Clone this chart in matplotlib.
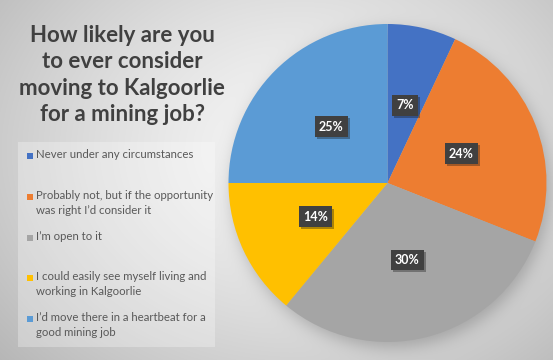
import numpy as np
import matplotlib
matplotlib.use("Agg")
import matplotlib.pyplot as plt
from matplotlib.patches import Rectangle
import matplotlib.patheffects as pe

# ---- data ----
categories = [
    "Never under any circumstances",
    "Probably not, but if the opportunity\nwas right I\u2019d consider it",
    "I\u2019m open to it",
    "I could easily see myself living and\nworking in Kalgoorlie",
    "I\u2019d move there in a heartbeat for a\ngood mining job",
]
values = [7, 24, 30, 14, 25]
colors = ["#4472C4", "#ED7D31", "#A5A5A5", "#FFC000", "#5B9BD5"]
title = "How likely are you\nto ever consider\nmoving to Kalgoorlie\nfor a mining job?"

W, H = 553, 360
fig = plt.figure(figsize=(W / 100, H / 100), dpi=100)

# ---- background gradient + pie shadow ----
bg_ax = fig.add_axes([0, 0, 1, 1])
yy, xx = np.mgrid[0:H, 0:W]
t = np.sqrt(((xx - 300) / (W * 0.62)) ** 2 + ((yy - 150) / (H * 0.75)) ** 2)
bg = 0.965 - 0.20 * np.clip(t, 0, 1.2) ** 1.4
cx, cy, R = 390, 188, 159
d = np.sqrt((xx - cx) ** 2 + (yy - cy) ** 2)
shadow = 1.0 / (1.0 + np.exp((d - R) / 5.0))
bg = bg * (1 - 0.22 * shadow)
bg_ax.imshow(np.dstack([bg, bg, bg]), extent=[0, W, H, 0], aspect="auto",
             interpolation="bilinear")
bg_ax.set_xlim(0, W)
bg_ax.set_ylim(H, 0)
bg_ax.axis("off")

# legend box
bg_ax.add_patch(Rectangle((18, 142), 197, 205, facecolor="white", alpha=0.28,
                          edgecolor="none"))

# ---- title ----
fig.text(122 / W, 1 - 75 / H, title, ha="center", va="center",
         fontsize=16, fontweight="bold", family="Lato", color="#404040",
         linespacing=1.33)

# ---- legend (manual) ----
leg_y = [156, 197, 238, 278, 319]
for i, (lab, col) in enumerate(zip(categories, colors)):
    y = leg_y[i]
    bg_ax.add_patch(Rectangle((26.5, y - 3.5), 6.5, 6.5, facecolor=col,
                              edgecolor="none"))
    bg_ax.text(36, y - 6.7, lab, ha="left", va="top", fontsize=8.2,
               family="Lato", color="#595959", linespacing=1.42,
               transform=bg_ax.transData)

# ---- pie ----
pie_ax = fig.add_axes([(387.5 - 159) / W, (H - 183 - 159) / H, 318 / W, 318 / H])
wedges, texts, autotexts = pie_ax.pie(
    values, colors=colors, startangle=90, counterclock=False,
    autopct=lambda p: f"{p:.0f}%", pctdistance=0.5,
    wedgeprops=dict(linewidth=0),
    textprops=dict(color="white", fontsize=9, fontweight="bold", family="Lato"))
pie_ax.set_xlim(-1, 1)
pie_ax.set_ylim(-1, 1)
pie_ax.set_aspect("equal")
for at in autotexts:
    at.set_bbox(dict(boxstyle="square,pad=0.35", facecolor="#404040",
                     edgecolor="none"))
    at.get_bbox_patch().set_path_effects(
        [pe.SimplePatchShadow(offset=(1.5, -1.5), alpha=0.35), pe.Normal()])

fig.savefig("out.png", dpi=100)
